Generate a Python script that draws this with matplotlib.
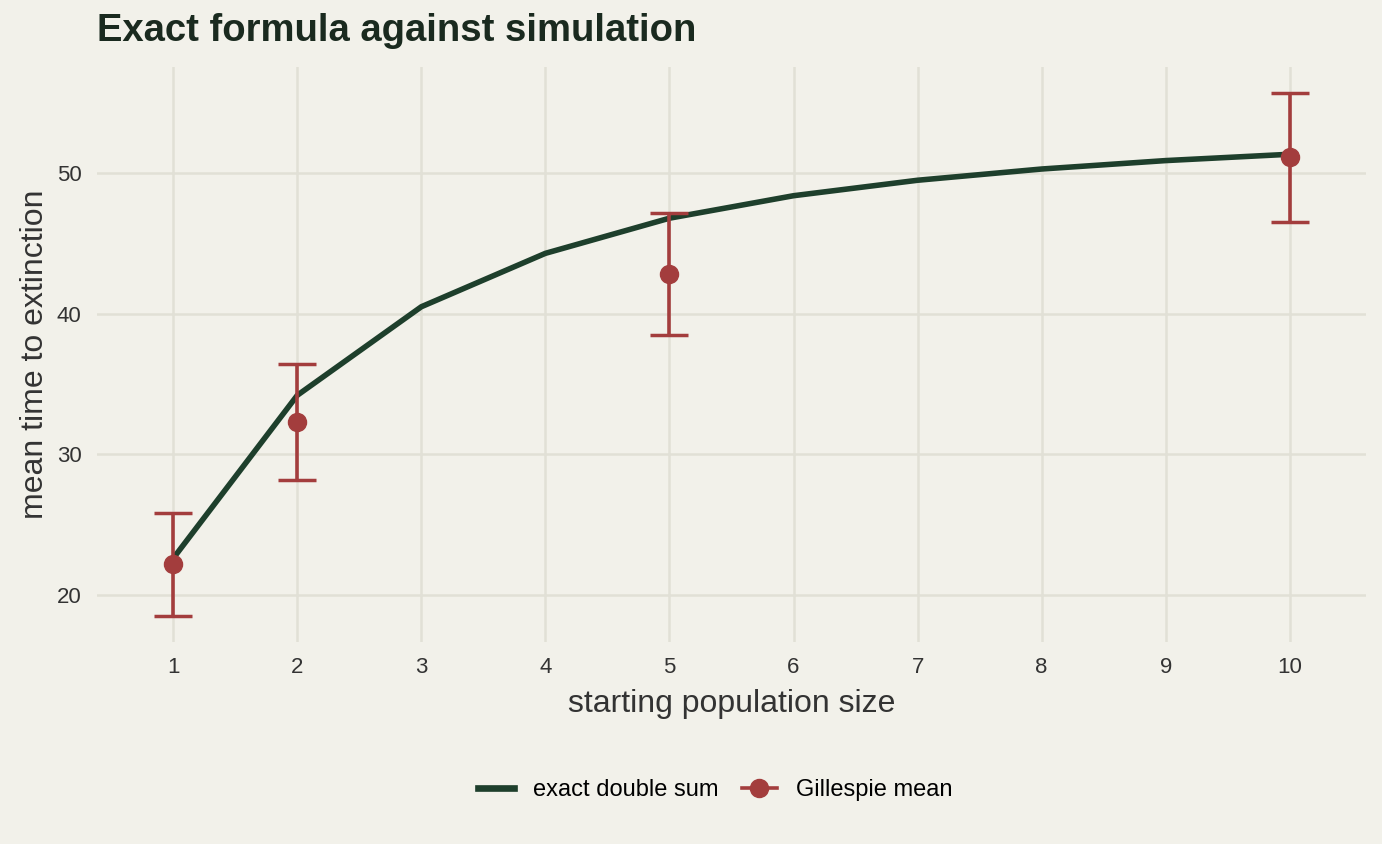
import numpy as np
import matplotlib
matplotlib.use("Agg")
import matplotlib.pyplot as plt
from matplotlib.lines import Line2D

# exact double-sum curve
n_exact = [1, 2, 3, 4, 5, 6, 7, 8, 9, 10]
t_exact = [22.6, 34.2, 40.5, 44.3, 46.8, 48.4, 49.5, 50.3, 50.9, 51.35]

# Gillespie simulation means with error bars
n_sim = [1, 2, 5, 10]
t_sim = [22.2, 32.3, 42.85, 51.15]
t_lo = [18.5, 28.2, 38.5, 46.55]
t_hi = [25.85, 36.4, 47.2, 55.7]

bg = "#F2F1EA"
grid_col = "#E1E0D6"
green = "#1E3F2C"
red = "#A33D3D"
txt = "#333333"

plt.rcParams['font.family'] = ['Liberation Sans', 'DejaVu Sans']

fig = plt.figure(figsize=(13.82, 8.44), dpi=100, facecolor=bg)
ax = fig.add_axes([97/1382, 1 - 642/844, (1366-97)/1382, (642-67)/844])
ax.set_facecolor(bg)

t_sim = np.array(t_sim)
yerr = [t_sim - np.array(t_lo), np.array(t_hi) - t_sim]

ax.plot(n_exact, t_exact, color=green, lw=4.0, solid_capstyle='butt', zorder=3)
ax.errorbar(n_sim, t_sim, yerr=yerr, fmt='o', color=red, ms=13,
            elinewidth=2.6, capsize=13.5, capthick=2.5, zorder=4)

ax.set_xlim(0.385, 10.615)
ax.set_ylim(16.64, 57.56)
ax.set_xticks(range(1, 11))
ax.set_yticks([20, 30, 40, 50])
ax.grid(True, color=grid_col, lw=1.8)
ax.set_axisbelow(True)
for s in ax.spines.values():
    s.set_visible(False)
ax.tick_params(length=0, labelsize=16, colors=txt, pad=11)

ax.set_xlabel("starting population size", fontsize=23, color=txt, labelpad=8)
ax.set_ylabel("mean time to extinction", fontsize=23, color=txt, labelpad=5)
fig.text(97/1382, 1 - 31/844, "Exact formula against simulation",
         fontsize=27.5, fontweight='bold', color="#1A2A1F", va='center', ha='left')

handles = [Line2D([], [], color=green, lw=4.8),
           Line2D([], [], color=red, lw=2.6, marker='o', ms=13)]
labels = ["exact double sum", "Gillespie mean"]
fig.legend(handles, labels, loc='center', bbox_to_anchor=(0.5177, 1 - 790/844),
           ncol=2, frameon=False, fontsize=17, handlelength=1.5,
           columnspacing=1.0, handletextpad=0.8, labelcolor='black')

fig.savefig("out.png", dpi=100, facecolor=bg)
